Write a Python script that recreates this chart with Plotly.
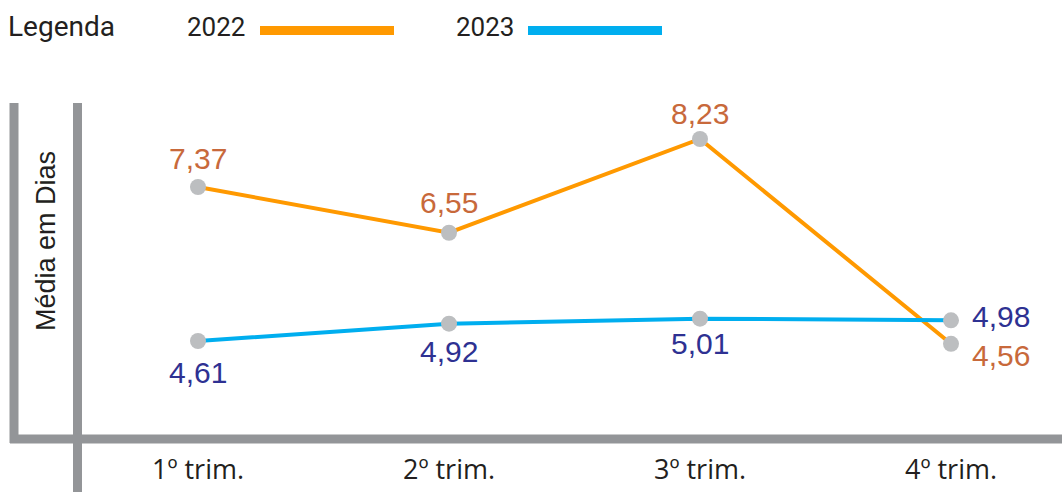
import plotly.graph_objects as go

categories = ["1º trim.", "2º trim.", "3º trim.", "4º trim."]
values_2022 = [7.37, 6.55, 8.23, 4.56]
values_2023 = [4.61, 4.92, 5.01, 4.98]
labels_2022 = ["7,37", "6,55", "8,23", "4,56"]
labels_2023 = ["4,61", "4,92", "5,01", "4,98"]

W, H = 1062, 492
ORANGE = "#FF9900"
BLUE = "#00AEEF"
GRAY = "#939598"
MARKER = "#BCBEC0"
LBL_OR = "#C8693B"
LBL_BL = "#2E3192"
TXT = "#231F20"

# label placement (style): xanchor, xshift, yshift per point
place_2022 = [("center", 0, 28), ("center", 0, 30), ("center", 0, 26), ("left", 19, -12)]
place_2023 = [("center", 0, -31), ("center", 0, -28), ("center", 0, -25), ("left", 19, 4)]

def px(x):
    return x / W

def py(y):
    return 1 - y / H

xs = list(range(len(categories)))

fig = go.Figure()
fig.add_trace(go.Scatter(
    x=xs, y=values_2022, mode="lines+markers", name="2022",
    line=dict(color=ORANGE, width=4),
    marker=dict(color=MARKER, size=16),
    cliponaxis=False,
))
fig.add_trace(go.Scatter(
    x=xs, y=values_2023, mode="lines+markers", name="2023",
    line=dict(color=BLUE, width=4),
    marker=dict(color=MARKER, size=16),
    cliponaxis=False,
))

shapes = [
    dict(type="line", xref="paper", yref="paper", x0=px(14), x1=px(14), y0=py(103), y1=py(443),
         line=dict(color=GRAY, width=9)),
    dict(type="line", xref="paper", yref="paper", x0=px(77.5), x1=px(77.5), y0=py(103), y1=py(492),
         line=dict(color=GRAY, width=9)),
    dict(type="line", xref="paper", yref="paper", x0=px(10), x1=px(1062), y0=py(439), y1=py(439),
         line=dict(color=GRAY, width=9)),
    dict(type="line", xref="paper", yref="paper", x0=px(260), x1=px(394), y0=py(30.5), y1=py(30.5),
         line=dict(color=ORANGE, width=9)),
    dict(type="line", xref="paper", yref="paper", x0=px(528), x1=px(662), y0=py(30.5), y1=py(30.5),
         line=dict(color=BLUE, width=9)),
]

legend_font = "Roboto, Liberation Sans, Arial"
annotations = [
    dict(text="Legenda", xref="paper", yref="paper", x=px(6), y=py(26), xanchor="left", yanchor="middle",
         showarrow=False, font=dict(family=legend_font, size=28, color=TXT)),
    dict(text="2022", xref="paper", yref="paper", x=px(185), y=py(27), xanchor="left", yanchor="middle",
         showarrow=False, font=dict(family=legend_font, size=26, color=TXT)),
    dict(text="2023", xref="paper", yref="paper", x=px(454), y=py(27), xanchor="left", yanchor="middle",
         showarrow=False, font=dict(family=legend_font, size=26, color=TXT)),
    dict(text="Média em Dias", xref="paper", yref="paper", x=px(46), y=py(241), xanchor="center",
         yanchor="middle", textangle=-90, showarrow=False,
         font=dict(family="Liberation Sans, Arial", size=27, color=TXT)),
]

lbl_font = "Liberation Sans, Arial"
for xv, yv, t, (xa, xsft, ysft) in zip(xs, values_2022, labels_2022, place_2022):
    annotations.append(dict(x=xv, y=yv, text=t, showarrow=False, xanchor=xa, yanchor="middle",
                            xshift=xsft, yshift=ysft, font=dict(family=lbl_font, size=30, color=LBL_OR)))
for xv, yv, t, (xa, xsft, ysft) in zip(xs, values_2023, labels_2023, place_2023):
    annotations.append(dict(x=xv, y=yv, text=t, showarrow=False, xanchor=xa, yanchor="middle",
                            xshift=xsft, yshift=ysft, font=dict(family=lbl_font, size=30, color=LBL_BL)))

x_domain = [px(78), 1.0]
unit = 251.0
x0 = -(198 - 78) / unit
x1 = x0 + (1062 - 78) / unit
yunit = 55.8
y_top, y_bot = 103, 439
ymax = 8.23 + (139 - y_top) / yunit
ymin = 8.23 - (y_bot - 139) / yunit

fig.update_layout(
    width=W, height=H,
    margin=dict(l=0, r=0, t=0, b=0),
    paper_bgcolor="white", plot_bgcolor="white",
    showlegend=False,
    shapes=shapes, annotations=annotations,
    xaxis=dict(domain=x_domain, range=[x0, x1], tickvals=xs, ticktext=categories,
               showgrid=False, zeroline=False, showline=False, ticks="",
               ticklabelstandoff=12,
               tickfont=dict(family="Open Sans, Lato", size=27, color=TXT)),
    yaxis=dict(domain=[py(y_bot), py(y_top)], range=[ymin, ymax], showgrid=False, zeroline=False,
               showline=False, showticklabels=False, ticks=""),
)

fig.write_html("out.html", config={"displayModeBar": False},
               post_script="document.body.style.margin='0px';")
